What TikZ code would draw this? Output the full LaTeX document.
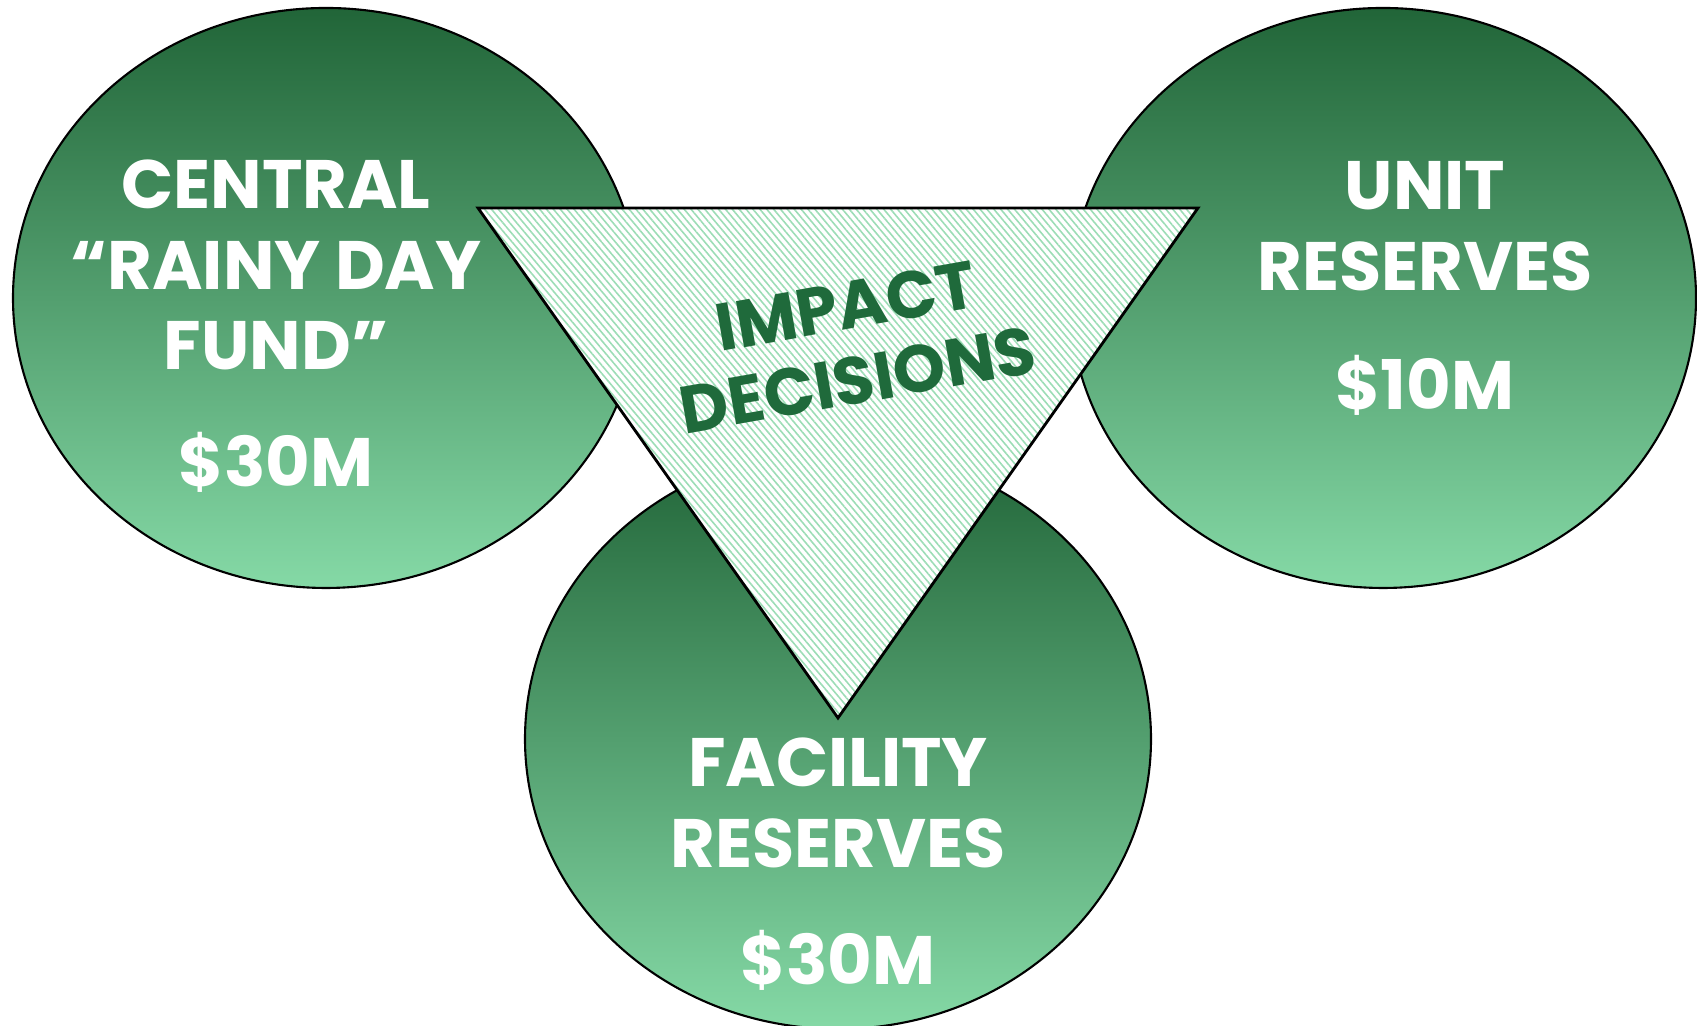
\documentclass[tikz,border=0pt]{standalone}
\usepackage{fontspec}
\setmainfont{Poppins}
\usetikzlibrary{patterns.meta}

\definecolor{pooltop}{HTML}{216538}
\definecolor{poolbot}{HTML}{85D9A6}
\definecolor{hatch}{HTML}{9CDDB6}
\definecolor{darkleaf}{HTML}{1F6A3B}

\begin{document}
\begin{tikzpicture}[
    pool/.style={draw=black, line width=0.6pt, top color=pooltop, bottom color=poolbot},
    fund/.style={text=white, font=\fontsize{19.5}{23}\selectfont\bfseries, align=center},
    decide/.style={text=darkleaf, font=\fontsize{19}{23}\selectfont\bfseries, rotate=10}
  ]
    \useasboundingbox (0,0) rectangle (16.97,10.26);

    % the three reserve pools
    \path[pool] (3.26,7.28) ellipse [x radius=3.13, y radius=2.90];
    \path[pool] (13.83,7.28) ellipse [x radius=3.13, y radius=2.90];
    \path[pool] (8.38,2.87) ellipse [x radius=3.13, y radius=2.90];

    % hatched triangle in the middle
    \coordinate (tl) at (4.78,8.18);
    \coordinate (tr) at (11.98,8.18);
    \coordinate (tb) at (8.38,3.08);
    \draw[line width=0.8pt, preaction={fill=white},
          pattern={Lines[angle=-50, distance=1.5pt, line width=0.45pt]}, pattern color=hatch]
      (tl) -- (tr) -- (tb) -- cycle;

    % labels
    \node[fund] (central) at (2.76,7.61) {CENTRAL\\“RAINY DAY\\FUND”};
    \node[fund] (central amt) at (2.76,5.64) {\$30M};
    \node[fund] (unit) at (14.25,8.00) {UNIT\\RESERVES};
    \node[fund] (unit amt) at (14.25,6.41) {\$10M};
    \node[fund] (facility) at (8.38,2.23) {FACILITY\\RESERVES};
    \node[fund] (facility amt) at (8.38,0.66) {\$30M};
    \node[decide] (impact) at (8.46,7.20) {IMPACT};
    \node[decide] (decisions) at (8.58,6.46) {DECISIONS};
\end{tikzpicture}
\end{document}
